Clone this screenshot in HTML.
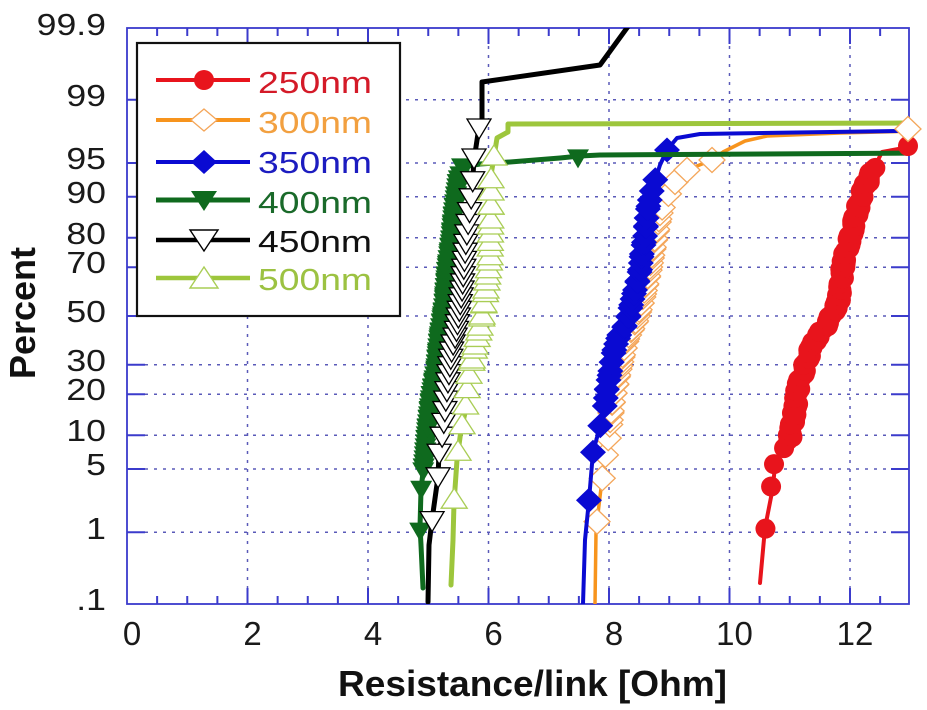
<!DOCTYPE html>
<html>
<head>
<meta charset="utf-8">
<style>
html,body{margin:0;padding:0;background:#fff;}
svg{display:block;font-family:"Liberation Sans",Arial,sans-serif;}
</style>
</head>
<body>
<svg id="chart" xmlns="http://www.w3.org/2000/svg" width="927" height="710" viewBox="0 0 927 710">
<defs>
<clipPath id="pc"><rect x="127" y="28" width="782" height="576"/></clipPath>
</defs>
<rect x="0" y="0" width="927" height="710" fill="#fff"/>

<!-- gridlines -->
<g stroke="#5a5ab8" stroke-width="1.5" stroke-dasharray="3,6" fill="none">
<line x1="127" y1="99.7" x2="909" y2="99.7"/>
<line x1="127" y1="163" x2="909" y2="163"/>
<line x1="127" y1="196.8" x2="909" y2="196.8"/>
<line x1="127" y1="237.7" x2="909" y2="237.7"/>
<line x1="127" y1="267.2" x2="909" y2="267.2"/>
<line x1="127" y1="316" x2="909" y2="316"/>
<line x1="127" y1="364.8" x2="909" y2="364.8"/>
<line x1="127" y1="394.3" x2="909" y2="394.3"/>
<line x1="127" y1="435.2" x2="909" y2="435.2"/>
<line x1="127" y1="469" x2="909" y2="469"/>
<line x1="127" y1="532.3" x2="909" y2="532.3"/>
<line x1="247.5" y1="28" x2="247.5" y2="604"/>
<line x1="368" y1="28" x2="368" y2="604"/>
<line x1="488.5" y1="28" x2="488.5" y2="604"/>
<line x1="609" y1="28" x2="609" y2="604"/>
<line x1="729.5" y1="28" x2="729.5" y2="604"/>
<line x1="850" y1="28" x2="850" y2="604"/>
</g>

<!-- ticks -->
<g id="ticks" stroke="#3b3bcc" stroke-width="2"></g>

<!-- frame -->
<rect x="127" y="28" width="782" height="576" fill="none" stroke="#3b3bcc" stroke-width="1.8"/>

<!-- legend -->
<rect x="137" y="43" width="263" height="273" fill="#fff" stroke="#111" stroke-width="2.2"/>
<g stroke-width="4">
<line x1="156" y1="80" x2="250" y2="80" stroke="#e8141c"/>
<line x1="156" y1="120" x2="250" y2="120" stroke="#f7941d"/>
<line x1="156" y1="162" x2="250" y2="162" stroke="#0a0ad2"/>
<line x1="156" y1="200" x2="250" y2="200" stroke="#0f6a1e" stroke-width="5"/>
<line x1="156" y1="240" x2="250" y2="240" stroke="#000" stroke-width="4.5"/>
<line x1="156" y1="278" x2="250" y2="278" stroke="#9dc63c" stroke-width="4.5"/>
</g>
<circle cx="204" cy="80" r="10" fill="#e8141c"/>
<polygon points="204,109 217,120 204,131 191,120" fill="#fff" stroke="#f4a65a" stroke-width="1.3"/>
<polygon points="204,150 217,162 204,174 191,162" fill="#0a0ad2"/>
<polygon points="191,191 217,191 204,211" fill="#0f6a1e"/>
<polygon points="190,230 218,230 204,251" fill="#fff" stroke="#000" stroke-width="1.4"/>
<polygon points="204,267 218,288 190,288" fill="#fff" stroke="#a9cd55" stroke-width="1.4"/>
<g font-size="31">
<text x="258" y="93" fill="#d41a28" textLength="114" lengthAdjust="spacingAndGlyphs">250nm</text>
<text x="258" y="133" fill="#f2a040" textLength="114" lengthAdjust="spacingAndGlyphs">300nm</text>
<text x="258" y="173" fill="#1c1cc0" textLength="114" lengthAdjust="spacingAndGlyphs">350nm</text>
<text x="258" y="213" fill="#1a6a2a" textLength="114" lengthAdjust="spacingAndGlyphs">400nm</text>
<text x="258" y="252" fill="#111" textLength="114" lengthAdjust="spacingAndGlyphs">450nm</text>
<text x="258" y="290" fill="#9cc242" textLength="114" lengthAdjust="spacingAndGlyphs">500nm</text>
</g>

<!-- series -->
<g id="series" clip-path="url(#pc)"></g>
<g id="extras"></g>

<!-- y labels -->
<g font-size="31" fill="#1a1a1a" text-anchor="end">
<text transform="translate(106,35) scale(1.15,1)">99.9</text>
<text transform="translate(106,106) scale(1.15,1)">99</text>
<text transform="translate(106,169) scale(1.15,1)">95</text>
<text transform="translate(106,203) scale(1.15,1)">90</text>
<text transform="translate(106,244) scale(1.15,1)">80</text>
<text transform="translate(106,273) scale(1.15,1)">70</text>
<text transform="translate(106,322) scale(1.15,1)">50</text>
<text transform="translate(106,371) scale(1.15,1)">30</text>
<text transform="translate(106,400) scale(1.15,1)">20</text>
<text transform="translate(106,441) scale(1.15,1)">10</text>
<text transform="translate(106,475) scale(1.15,1)">5</text>
<text transform="translate(106,539) scale(1.15,1)">1</text>
<text transform="translate(106,610) scale(1.15,1)">.1</text>
</g>

<!-- x labels -->
<g font-size="33" fill="#1a1a1a" text-anchor="middle">
<text x="132" y="645">0</text>
<text x="252.5" y="645">2</text>
<text x="373" y="645">4</text>
<text x="493.5" y="645">6</text>
<text x="614" y="645">8</text>
<text x="734.5" y="645">10</text>
<text x="855" y="645">12</text>
</g>

<text x="338" y="696" font-size="36" font-weight="bold" fill="#111" textLength="389" lengthAdjust="spacingAndGlyphs">Resistance/link [Ohm]</text>
<text transform="translate(35,313) rotate(-90)" text-anchor="middle" font-size="36" font-weight="bold" fill="#111">Percent</text>
</svg>

<script>
(function(){
var NS="http://www.w3.org/2000/svg";
function el(tag,attrs,parent){var e=document.createElementNS(NS,tag);for(var k in attrs)e.setAttribute(k,attrs[k]);parent.appendChild(e);return e;}
function qnorm(p){
 var a=[-3.969683028665376e+01,2.209460984245205e+02,-2.759285104469687e+02,1.383577518672690e+02,-3.066479806614716e+01,2.506628277459239e+00];
 var b=[-5.447609879822406e+01,1.615858368580409e+02,-1.556989798598866e+02,6.680131188771972e+01,-1.328068155288572e+01];
 var c=[-7.784894002430293e-03,-3.223964580411365e-01,-2.400758277161838e+00,-2.549732539343734e+00,4.374664141464968e+00,2.938163982698783e+00];
 var d=[7.784695709041462e-03,3.224671290700398e-01,2.445134137142996e+00,3.754408661907416e+00];
 var pl=0.02425,ph=1-pl,q,r;
 if(p<pl){q=Math.sqrt(-2*Math.log(p));return (((((c[0]*q+c[1])*q+c[2])*q+c[3])*q+c[4])*q+c[5])/((((d[0]*q+d[1])*q+d[2])*q+d[3])*q+1);}
 if(p>ph){q=Math.sqrt(-2*Math.log(1-p));return -(((((c[0]*q+c[1])*q+c[2])*q+c[3])*q+c[4])*q+c[5])/((((d[0]*q+d[1])*q+d[2])*q+d[3])*q+1);}
 q=p-0.5;r=q*q;return (((((a[0]*r+a[1])*r+a[2])*r+a[3])*r+a[4])*r+a[5])*q/(((((b[0]*r+b[1])*r+b[2])*r+b[3])*r+b[4])*r+1);
}
function Y(p){return 316-93*qnorm(p);}

var tg=document.getElementById('ticks');
var ys=[99.7,163,196.8,237.7,267.2,316,364.8,394.3,435.2,469,532.3];
ys.forEach(function(y){el('line',{x1:127,y1:y,x2:145,y2:y},tg);el('line',{x1:891,y1:y,x2:909,y2:y},tg);});
for(var v=0.5;v<13;v+=0.5){
 var x=127+v*60.25;var major=(Math.abs(v/2-Math.round(v/2))<1e-6);
 var L=major?16:8;
 el('line',{x1:x,y1:604,x2:x,y2:604-L},tg);
 el('line',{x1:x,y1:28,x2:x,y2:28+L},tg);
}

var sg=document.getElementById('series');
var eg=document.getElementById('extras');

function xAt(path,y){
 for(var i=0;i<path.length-1;i++){
  var y0=path[i][1],y1=path[i+1][1];
  if((y<=y0&&y>=y1)||(y>=y0&&y<=y1)){
   if(y0===y1)return path[i][0];
   var t=(y-y0)/(y1-y0);return path[i][0]+t*(path[i+1][0]-path[i][0]);
  }
 }
 return path[path.length-1][0];
}
function marker(type,x,y,o,parent){
 if(type==='circle'){el('circle',{cx:x,cy:y,r:o.r,fill:o.fill},parent);}
 else if(type==='diamond'){
  var hw=o.hw,hh=o.hh;
  el('polygon',{points:x+','+(y-hh)+' '+(x+hw)+','+y+' '+x+','+(y+hh)+' '+(x-hw)+','+y,fill:o.fill,stroke:o.stroke||'none','stroke-width':o.sw||0},parent);
 } else if(type==='down'){
  var w=o.w,h=o.h;
  el('polygon',{points:(x-w/2)+','+(y-h*0.4)+' '+(x+w/2)+','+(y-h*0.4)+' '+x+','+(y+h*0.6),fill:o.fill,stroke:o.stroke||'none','stroke-width':o.sw||0},parent);
 } else if(type==='up'){
  var w2=o.w,h2=o.h;
  el('polygon',{points:x+','+(y-h2*0.6)+' '+(x+w2/2)+','+(y+h2*0.4)+' '+(x-w2/2)+','+(y+h2*0.4),fill:o.fill,stroke:o.stroke||'none','stroke-width':o.sw||0},parent);
 }
}
function series(s){
 var g=el('g',{},sg);
 el('polyline',{points:s.line.map(function(p){return p[0]+','+p[1];}).join(' '),fill:'none',stroke:s.color,'stroke-width':s.lw,'stroke-linejoin':'round','stroke-linecap':'round'},g);
 var pts=[];
 for(var i=1;i<=s.imax;i++){
  var p=(i-0.5)/s.N;var y=Y(p);
  if(y<s.ymin)continue;
  pts.push(y);
 }
 if(s.dense){
  var d=s.dense;
  for(var y2=d.yLo;y2>=d.yHi;y2-=d.step)pts.push(y2);
 }
 pts.sort(function(a,b){return b-a;});
 pts.forEach(function(y){
  var x=xAt(s.band,y)+(s.jit?s.jit*Math.sin(y*1.7):0);
  marker(s.mtype,x,y,s.m,g);
 });
 (s.extras||[]).forEach(function(q){marker(s.mtype,q[0],q[1],s.m,g);});
}

var red={color:'#e8141c',lw:4,N:45,imax:43,ymin:160,mtype:'circle',m:{r:10,fill:'#e8141c'},jit:2.5,
 dense:{yLo:440,yHi:170,step:3},
 line:[[760,583],[765,528],[773,487],[775,465],[782,447],[790,437],[795,410],[798,387],[805,367],[813,343],[825,327],[831,317],[838,303],[844,260],[853,227],[862,193],[874,168],[882,152],[920,145]]};
red.band=red.line.slice(0,17);

var orange={color:'#f7941d',lw:3.5,N:37,imax:34,ymin:150,mtype:'diamond',m:{hw:13,hh:12.5,fill:'#fff',stroke:'#f4a65a',sw:1.3},
 dense:{yLo:420,yHi:205,step:9},
 line:[[595,604],[596,533],[597,522],[602,480],[605,457],[608,440],[612,403],[618,373],[626,340],[636,320],[642,300],[649,270],[655,237],[660,213],[665,200],[675,182],[687,170],[712,160],[723,152],[745,141],[767,136],[840,133],[920,131]],
 extras:[[675,182],[687,170],[712,160]]};
orange.band=orange.line.slice(0,16);

var blue={color:'#0a0ad2',lw:4,N:21,imax:20,ymin:150,mtype:'diamond',m:{hw:13,hh:12.5,fill:'#0a0ad2'},
 dense:{yLo:398,yHi:185,step:9},
 line:[[583,604],[585,540],[589,500],[593,452],[601,423],[605,405],[607,387],[610,373],[612,360],[615,347],[620,333],[627,323],[630,310],[633,297],[637,283],[640,270],[642,253],[645,237],[647,213],[652,190],[660,165],[667,150],[677,138],[700,134],[897,131],[930,130]],
 extras:[[667,150]]};
blue.band=blue.line.slice(0,22);

var green={color:'#0f6a1e',lw:5,N:47,imax:44,ymin:160,mtype:'down',m:{w:22,h:19,fill:'#0f6a1e'},
 dense:{yLo:470,yHi:172,step:4},
 line:[[423,588],[421,545],[420,527],[421,490],[424,463],[427,430],[431,397],[436,370],[439,340],[444,307],[447,270],[451,240],[454,210],[458,180],[463,167],[480,164],[510,162],[560,158],[580,156],[600,155],[930,153]],
 extras:[[462,166],[578,157]]};
green.band=green.line.slice(0,15);

var black={color:'#000',lw:5,N:35,imax:33,ymin:150,mtype:'down',m:{w:24,h:20,fill:'#fff',stroke:'#000',sw:1.3},
 line:[[428,602],[429,545],[432,520],[438,477],[439,453],[443,430],[446,397],[452,347],[456,333],[462,290],[466,240],[472,190],[474,160],[479,127],[482,120],[482,82],[600,65],[640,10]],
 extras:[[474,157],[479,127]]};
black.band=black.line.slice(0,14);

var yg={color:'#9dc63c',lw:5,N:21,imax:20,ymin:150,mtype:'up',m:{w:26,h:20,fill:'#fff',stroke:'#a9cd55',sw:1.3},
 dense:{yLo:360,yHi:190,step:14},
 line:[[451,585],[453,540],[454,503],[457,460],[461,430],[465,413],[468,380],[475,347],[481,323],[486,290],[490,257],[491,210],[491,175],[494,157],[497,138],[508,132],[508,124],[930,123]],
 extras:[[494,157]]};
yg.band=yg.line.slice(0,14);

[red,orange,blue,green,black,yg].forEach(series);

marker('circle',908,146,{r:10,fill:'#e8141c'},eg);
marker('diamond',908,129,{hw:13,hh:12.5,fill:'#fff',stroke:'#f4a65a',sw:1.3},eg);
})();
</script>
</body>
</html>
